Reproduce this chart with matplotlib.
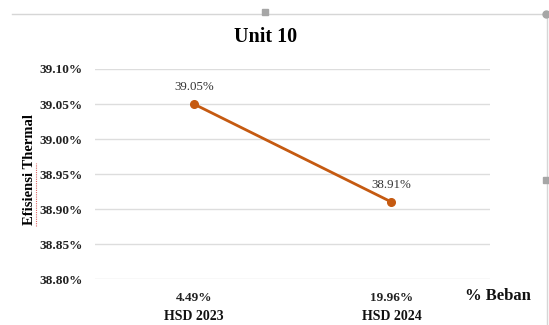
import matplotlib.pyplot as plt
from matplotlib.lines import Line2D
from matplotlib.ticker import FuncFormatter

# efisiensi thermal per tahun
unit = ["HSD 2023", "HSD 2024"]
beban = ["4.49%", "19.96%"]
efisiensi = [39.05, 38.91]
y_ticks = [38.80, 38.85, 38.90, 38.95, 39.00, 39.05, 39.10]

plt.rcParams["font.family"] = ["Liberation Serif", "DejaVu Serif"]

fig = plt.figure(figsize=(5.49, 3.25), dpi=100)
ax = fig.add_axes([0.173, 0.1415, 0.72, 0.6462])

x = list(range(len(unit)))
ax.plot(x, efisiensi, color="#C55A11", lw=2.0, marker="o", ms=5.5,
        solid_capstyle="round", zorder=3)
for xi, v in zip(x, efisiensi):
    ax.annotate(f"{v:.2f}%", (xi, v), xytext=(0, 8), textcoords="offset points",
                ha="center", va="bottom", fontsize=9.3, color="#333333")

ax.set_xlim(-0.5, 1.5)
ax.set_ylim(38.80, 39.10)
ax.set_yticks(y_ticks)
ax.yaxis.set_major_formatter(FuncFormatter(lambda v, _: f"{v:.2f}%"))
ax.grid(axis="y", color="#DDDDDD", lw=1)
ax.set_axisbelow(True)
for s in ax.spines.values():
    s.set_visible(False)
ax.tick_params(length=0)
ax.tick_params(axis="y", pad=9, labelsize=9.5, labelcolor="#222222")
for lab in ax.get_yticklabels():
    lab.set_fontweight("bold")

ax.set_xticks(x)
ax.set_xticklabels(beban, fontsize=9.5, fontweight="bold", color="#222222")
ax.tick_params(axis="x", pad=9)
for xi, u in zip(x, unit):
    ax.text(xi, -0.147, u, transform=ax.get_xaxis_transform(), ha="center",
            va="top", fontsize=10, fontweight="bold", color="#111111")
ax.text(1.54, -0.08, "% Beban", transform=ax.get_xaxis_transform(), ha="center",
        va="center", fontsize=12, fontweight="bold", color="#111111")

ax.set_ylabel("Efisiensi Thermal", fontsize=10.5, fontweight="bold")
ax.yaxis.set_label_coords(-0.15, 0.52)

fig.text(0.4845, 0.886, "Unit 10", ha="center", va="center", fontsize=14.5,
         fontweight="bold")

# frame / selection handles
fig.add_artist(Line2D([0.022, 0.995], [0.957, 0.957], color="#D6D6D6", lw=1))
fig.add_artist(Line2D([0.996, 0.996], [0.0, 0.957], color="#D6D6D6", lw=1))
fig.add_artist(Line2D([0.483], [0.962], marker="s", ms=4, color="#A6A6A6"))
fig.add_artist(Line2D([0.995], [0.957], marker="o", ms=5, color="#A6A6A6"))
fig.add_artist(Line2D([0.995], [0.447], marker="s", ms=4, color="#A6A6A6"))
# spell-check underline under the axis label
fig.add_artist(Line2D([0.066, 0.066], [0.305, 0.50], color="#E06666", lw=0.8,
                      ls=(0, (1, 1))))

fig.savefig("out.png", dpi=100)
